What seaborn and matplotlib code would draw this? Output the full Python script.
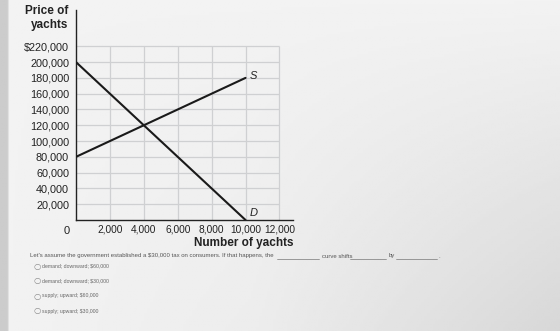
import numpy as np
import pandas as pd
import matplotlib
matplotlib.use("Agg")
import matplotlib.pyplot as plt
from matplotlib.lines import Line2D
import seaborn as sns

# ---- data ----
quantity = [0, 2000, 4000, 6000, 8000, 10000]
supply_price = [80000, 100000, 120000, 140000, 160000, 180000]
demand_price = [200000, 160000, 120000, 80000, 40000, 0]
y_ticks = [20000, 40000, 60000, 80000, 100000, 120000, 140000, 160000, 180000, 200000, 220000]
y_tick_labels = ["20,000", "40,000", "60,000", "80,000", "100,000", "120,000", "140,000",
                 "160,000", "180,000", "200,000", "$220,000"]
x_ticks = [2000, 4000, 6000, 8000, 10000, 12000]
x_tick_labels = ["2,000", "4,000", "6,000", "8,000", "10,000", "12,000"]
question_parts = ["Let's assume the government established a $30,000 tax on consumers. If that happens, the",
                  "curve shifts", "by", "."]
options = ["demand; downward; $60,000", "demand; downward; $30,000",
           "supply; upward; $60,000", "supply; upward; $30,000"]

sns.set_style("white")
plt.rcParams["font.family"] = ["Liberation Sans", "DejaVu Sans"]

W, H = 560, 331
fig = plt.figure(figsize=(W / 100, H / 100), dpi=100)

# photo-like background gradient
bg = fig.add_axes([0, 0, 1, 1], zorder=-10)
gx = np.linspace(0, 1, 200)
gy = np.linspace(0, 1, 120)
GX, GY = np.meshgrid(gx, gy)
shade = 0.95 - 0.10 * np.clip((GX - 0.45), 0, None) * (GY) - 0.05 * GY * GX
shade[:, :3] = 0.80
bg.imshow(shade, cmap="gray", vmin=0, vmax=1, aspect="auto", extent=[0, 1, 0, 1], origin="upper")
bg.set_axis_off()

ax = fig.add_axes([76 / W, (H - 220) / H, (293 - 76) / W, (220 - 10) / H])
ax.set_facecolor("none")

df = pd.DataFrame({
    "quantity": quantity * 2,
    "price": supply_price + demand_price,
    "curve": ["S"] * len(quantity) + ["D"] * len(quantity),
})
sns.lineplot(data=df, x="quantity", y="price", hue="curve", palette={"S": "#1a1a1a", "D": "#1a1a1a"},
             linewidth=1.5, legend=False, ax=ax, zorder=3)

ax.set_xlim(0, 12800)
ax.set_ylim(0, 266000)

# grid limited to the graph paper area
ax.hlines(y_ticks, 0, x_ticks[-1], colors="#cfd0d2", linewidth=0.9, zorder=1)
ax.vlines(x_ticks, 0, y_ticks[-1], colors="#cfd0d2", linewidth=0.9, zorder=1)

ax.set_yticks(y_ticks)
ax.set_yticklabels(y_tick_labels)
ax.set_xticks(x_ticks)
ax.set_xticklabels(x_tick_labels)
ax.tick_params(axis="y", direction="inout", length=6, width=0.8, pad=2, labelsize=7.8, colors="#222222")
ax.tick_params(axis="x", direction="in", length=4, width=0.8, pad=3, labelsize=7.3, colors="#222222")
for s in ["top", "right"]:
    ax.spines[s].set_visible(False)
for s in ["left", "bottom"]:
    ax.spines[s].set_color("#222222")
    ax.spines[s].set_linewidth(1.0)
ax.set_xlabel("")
ax.set_ylabel("")

ax.text(10250, supply_price[-1] + 2000, "S", style="italic", fontsize=8, color="#222222", va="center")
ax.text(10250, 9000, "D", style="italic", fontsize=8, color="#222222", va="center")

fig.text(70 / W, 1 - 231 / H, "0", fontsize=8, color="#222222", ha="right", va="center")
fig.text(68 / W, 1 - 18 / H, "Price of\nyachts", fontsize=8.5, fontweight="bold", color="#222222",
         ha="right", va="center", linespacing=1.3)
fig.text(293 / W, 1 - 243 / H, "Number of yachts", fontsize=8.5, fontweight="bold", color="#222222",
         ha="right", va="center")

# question line with blanks
qy = 1 - 256 / H
qc = "#555555"
fig.text(30 / W, qy, question_parts[0], fontsize=4.3, color=qc, ha="left", va="center")
fig.text(322 / W, qy, question_parts[1], fontsize=4.3, color=qc, ha="left", va="center")
fig.text(389 / W, qy, question_parts[2], fontsize=4.3, color=qc, ha="left", va="center")
fig.text(438 / W, qy, question_parts[3], fontsize=4.3, color=qc, ha="left", va="center")
for x0, x1 in [(277, 319), (350, 386), (396, 437)]:
    fig.add_artist(Line2D([x0 / W, x1 / W], [qy - 2.5 / H, qy - 2.5 / H], color="#777777", linewidth=0.5))

for i, opt in enumerate(options):
    yy = 1 - (266 + 15 * i) / H
    fig.text(33 / W, yy, "○", fontsize=6, color="#888888", ha="left", va="center",
             family=["DejaVu Sans"])
    fig.text(42 / W, yy, opt, fontsize=3.7, color="#666666", ha="left", va="center")

fig.savefig("out.png", dpi=100)
